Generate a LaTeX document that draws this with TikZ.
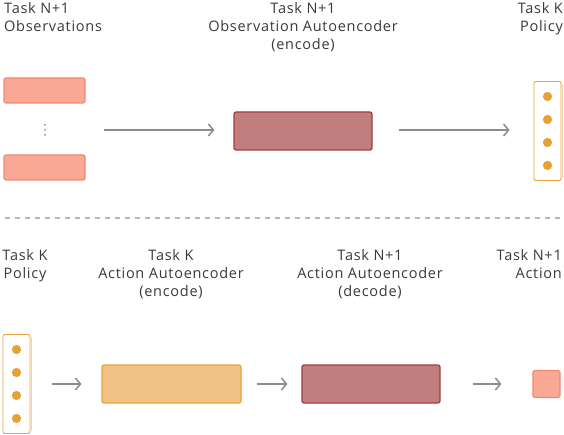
\documentclass[tikz,border=0pt]{standalone}
\usepackage{fontspec}
\setmainfont{Open Sans}[LetterSpace=5]
\usetikzlibrary{arrows.meta,calc}
\definecolor{salmonfill}{HTML}{F8A894}
\definecolor{salmonline}{HTML}{F08A70}
\definecolor{maroonfill}{HTML}{C07F7E}
\definecolor{maroonline}{HTML}{A23C3C}
\definecolor{amberfill}{HTML}{F0C384}
\definecolor{amberline}{HTML}{E9A33B}
\definecolor{amberpale}{HTML}{F5D3A3}
\definecolor{dotcol}{HTML}{E8A234}
\definecolor{flowgray}{HTML}{8C8C8C}
\definecolor{textgray}{HTML}{3A3A3A}
\begin{document}
\begin{tikzpicture}[x=1pt,y=-1pt,
    font=\fontsize{14.5}{18}\selectfont, text=textgray,
    box/.style={rectangle, rounded corners=2pt, line width=1.2pt, inner sep=0pt},
    obsbox/.style={box, draw=salmonline, fill=salmonfill, minimum width=81pt, minimum height=25pt},
    codebox/.style={box, draw=maroonline, fill=maroonfill, minimum width=138pt, minimum height=38pt},
    ambox/.style={box, draw=amberline, fill=amberfill, minimum width=139pt, minimum height=38pt},
    polbox/.style={box, draw=amberline, line width=0.9pt, minimum width=27pt, minimum height=99pt},
    lbl/.style={align=center, anchor=north, inner sep=0pt},
    flow/.style={draw=flowgray, line width=1.5pt, -{Straight Barb[length=5pt,width=12pt]}}]
    \useasboundingbox (0,0) rectangle (564,435);
    \fill[white] (0,0) rectangle (564,435);
    % top row
    \node[obsbox] (obs1) at (44.5,90.5) {};
    \node[obsbox] (obs2) at (44.5,167.5) {};
    \foreach \dy in {125,130,135}
        \fill[flowgray] (45,\dy) circle[radius=1pt];
    \coordinate (obsmid) at (85,130);
    \node[codebox] (obsenc) at (303,131) {};
    \node[polbox] (toppol) at (547.5,131) {};
    \draw[amberpale, line width=1.5pt] ([xshift=1pt,yshift=-3pt]toppol.north east) -- ([xshift=1pt,yshift=3pt]toppol.south east);
    \foreach \dy in {-34.5,-11.5,11.5,34.5}
        \fill[dotcol] ($(toppol.center)+(0,\dy)$) circle[radius=4.6pt];
    \draw[flow, shorten <=19pt, shorten >=19pt] (obsmid) -- (obsenc.west |- obsmid);
    \draw[flow, shorten <=26pt, shorten >=24pt] (obsenc.east |- obsmid) -- (toppol.west |- obsmid);
    \node[lbl, align=left, anchor=north west] (obslbl) at (4,2.5) {Task N+1\\Observations};
    \node[lbl] (obsenclbl) at (303,2.5) {Task N+1\\Observation Autoencoder\\(encode)};
    \node[lbl, align=right, anchor=north east] (toppollbl) at (563,2.5) {Task K\\Policy};
    % separator
    \coordinate (sepl) at (5,218);
    \coordinate (sepr) at (563,218);
    \draw[black!28, line width=1.3pt, dash pattern=on 5pt off 5pt] (sepl) -- (sepr);
    % bottom row
    \node[polbox] (botpol) at (16.5,384) {};
    \draw[amberpale, line width=1.5pt] ([xshift=1pt,yshift=-3pt]botpol.north east) -- ([xshift=1pt,yshift=3pt]botpol.south east);
    \foreach \dy in {-34.5,-11.5,11.5,34.5}
        \fill[dotcol] ($(botpol.center)+(0,\dy)$) circle[radius=4.6pt];
    \node[ambox] (actenc) at (171.5,384) {};
    \node[codebox] (actdec) at (371,384) {};
    \node[obsbox, minimum width=27pt, minimum height=27pt] (actout) at (546.5,384) {};
    \draw[flow, shorten <=22pt, shorten >=20pt] (botpol) -- (actenc);
    \draw[flow, shorten <=15pt, shorten >=14pt] (actenc) -- (actdec);
    \draw[flow, shorten <=32pt, shorten >=31pt] (actdec) -- (actout);
    \node[lbl] (botpollbl) at (25,249.5) {Task K\\Policy};
    \node[lbl] (actenclbl) at (171,249.5) {Task K\\Action Autoencoder\\(encode)};
    \node[lbl] (actdeclbl) at (370,249.5) {Task N+1\\Action Autoencoder\\(decode)};
    \node[lbl, align=right, anchor=north east] (actoutlbl) at (562,249.5) {Task N+1\\Action};
\end{tikzpicture}
\end{document}
